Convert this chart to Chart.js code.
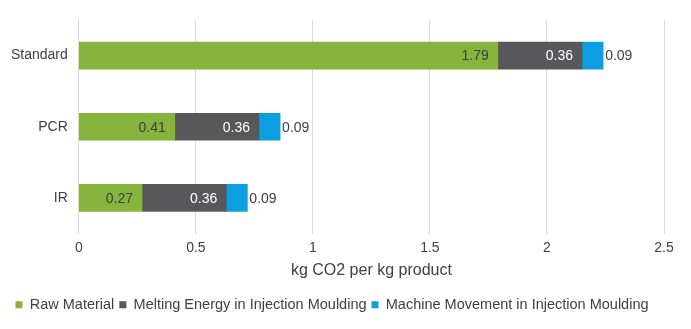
<!DOCTYPE html>
<html>
<head>
<meta charset="utf-8">
<script src="https://cdn.jsdelivr.net/npm/chart.js@4"></script>
<style>
  html, body { margin: 0; padding: 0; background: #fff; }
  #wrap { width: 691px; height: 329px; }
</style>
</head>
<body>
<div id="wrap"><canvas id="chart" width="691" height="329"></canvas></div>
<script>
const categories = ['Standard', 'PCR', 'IR'];
const seriesNames = ['Raw Material', 'Melting Energy in Injection Moulding', 'Machine Movement in Injection Moulding'];
const rawMaterial = [1.79, 0.41, 0.27];
const meltingEnergy = [0.36, 0.36, 0.36];
const machineMovement = [0.09, 0.09, 0.09];
const xTicks = [0, 0.5, 1, 1.5, 2, 2.5];

const fontName = '"Liberation Sans", Arial, sans-serif';
const textColor = '#404040';

// draws the numbers on the bars
const barLabels = {
  id: 'barLabels',
  afterDatasetsDraw(chart) {
    const ctx = chart.ctx;
    ctx.save();
    ctx.font = '14px ' + fontName;
    ctx.textBaseline = 'middle';
    chart.data.datasets.forEach((ds, i) => {
      const meta = chart.getDatasetMeta(i);
      meta.data.forEach((bar, j) => {
        const txt = ds.data[j].toFixed(2);
        if (i == 2) {
          ctx.textAlign = 'left';
          ctx.fillStyle = textColor;
          ctx.fillText(txt, bar.x + 2, bar.y + 1);
        } else {
          ctx.textAlign = 'right';
          ctx.fillStyle = i == 1 ? '#ffffff' : textColor;
          ctx.fillText(txt, bar.x - 9, bar.y + 1);
        }
      });
    });
    ctx.restore();
  }
};

new Chart(document.getElementById('chart').getContext('2d'), {
  type: 'bar',
  data: {
    labels: categories,
    datasets: [
      { label: seriesNames[0], data: rawMaterial, backgroundColor: '#86b43c' },
      { label: seriesNames[1], data: meltingEnergy, backgroundColor: '#58585a' },
      { label: seriesNames[2], data: machineMovement, backgroundColor: '#0c9fe0' }
    ]
  },
  options: {
    indexAxis: 'y',
    responsive: false,
    animation: false,
    devicePixelRatio: 1,
    barThickness: 27,
    layout: { padding: { left: 0, right: 27, top: 20, bottom: 7 } },
    scales: {
      x: {
        stacked: true,
        min: 0,
        max: 2.5,
        afterBuildTicks: (axis) => { axis.ticks = xTicks.map(v => ({ value: v })); },
        ticks: { color: textColor, font: { family: fontName, size: 14 }, padding: 6, callback: (v) => String(v) },
        grid: { color: '#d9d9d9', drawTicks: false },
        border: { display: false },
        title: { display: true, text: 'kg CO2 per kg product', color: textColor, font: { family: fontName, size: 16 }, padding: { top: -1, bottom: 12 } }
      },
      y: {
        stacked: true,
        ticks: { color: textColor, font: { family: fontName, size: 14 }, padding: 11 },
        grid: { display: false, drawTicks: false },
        border: { display: false }
      }
    },
    plugins: {
      legend: {
        position: 'bottom',
        labels: { color: textColor, font: { family: fontName, size: 14.5 }, boxWidth: 7, boxHeight: 7, padding: 5 }
      },
      tooltip: { enabled: false }
    }
  },
  plugins: [barLabels]
});
</script>
</body>
</html>
